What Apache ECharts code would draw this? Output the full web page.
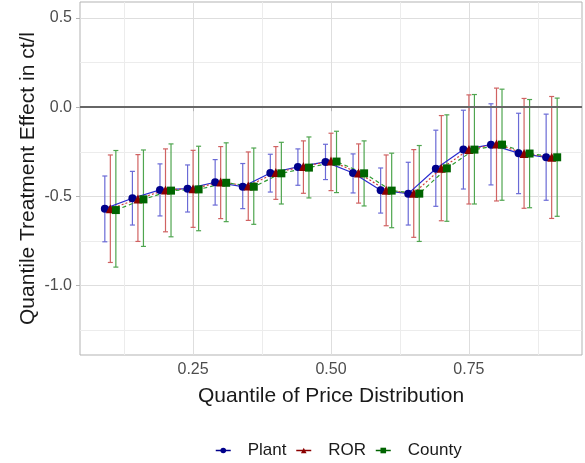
<!DOCTYPE html>
<html>
<head>
<meta charset="utf-8">
<title>Quantile Treatment Effect</title>
<script src="https://cdn.jsdelivr.net/npm/echarts@6/dist/echarts.min.js"></script>
<style>html,body{margin:0;padding:0;background:#fff;}</style>
</head>
<body>
<div id="main" style="width:585px;height:463px;"></div>
<script type="text/javascript">
// data
var quantiles = [0.10, 0.15, 0.20, 0.25, 0.30, 0.35, 0.40, 0.45, 0.50, 0.55, 0.60, 0.65, 0.70, 0.75, 0.80, 0.85, 0.90];

var plantEst = [-0.569, -0.511, -0.464, -0.457, -0.421, -0.446, -0.369, -0.335, -0.307, -0.369, -0.466, -0.485, -0.345, -0.238, -0.210, -0.258, -0.281];
var plantLo  = [-0.755, -0.661, -0.610, -0.588, -0.549, -0.569, -0.476, -0.438, -0.406, -0.481, -0.594, -0.661, -0.556, -0.459, -0.436, -0.485, -0.522];
var plantHi  = [-0.386, -0.360, -0.318, -0.324, -0.294, -0.316, -0.264, -0.234, -0.208, -0.262, -0.341, -0.309, -0.129, -0.017, 0.019, -0.034, -0.039];

var rorEst = [-0.570, -0.515, -0.464, -0.457, -0.420, -0.442, -0.367, -0.333, -0.302, -0.369, -0.466, -0.483, -0.343, -0.238, -0.206, -0.260, -0.281];
var rorLo  = [-0.871, -0.753, -0.699, -0.674, -0.625, -0.635, -0.517, -0.483, -0.468, -0.538, -0.665, -0.730, -0.637, -0.543, -0.526, -0.567, -0.624];
var rorHi  = [-0.268, -0.266, -0.234, -0.242, -0.221, -0.251, -0.221, -0.189, -0.146, -0.206, -0.268, -0.238, -0.047, 0.069, 0.107, 0.049, 0.060];

var countyEst = [-0.577, -0.517, -0.468, -0.461, -0.424, -0.446, -0.371, -0.339, -0.305, -0.371, -0.468, -0.485, -0.343, -0.238, -0.210, -0.260, -0.281];
var countyLo  = [-0.897, -0.781, -0.727, -0.693, -0.642, -0.657, -0.543, -0.509, -0.479, -0.554, -0.676, -0.753, -0.640, -0.543, -0.522, -0.564, -0.612];
var countyHi  = [-0.243, -0.240, -0.206, -0.219, -0.200, -0.229, -0.197, -0.167, -0.135, -0.189, -0.258, -0.215, -0.043, 0.071, 0.101, 0.043, 0.051];

var xMajor = [0.25, 0.50, 0.75];
var xMinor = [0.125, 0.375, 0.625, 0.875];
var yMajor = [-1.0, -0.5, 0.0, 0.5];
var yMinor = [-1.25, -0.75, -0.25, 0.25];

var myChart = echarts.init(document.getElementById('main'));

// groups: name, dodge, point colour, line colour, bar colour, symbol, line type
var groups = [
    {name: 'Plant',  est: plantEst,  lo: plantLo,  hi: plantHi,  dodge: -0.01, point: '#00008b', line: '#2b2bd0', bar: '#6a6ad6', symbol: 'circle',   size: 8, type: 'solid'},
    {name: 'ROR',    est: rorEst,    lo: rorLo,    hi: rorHi,    dodge: 0,     point: '#8b0000', line: '#d04040', bar: '#d06262', symbol: 'triangle', size: 9, type: [2, 2]},
    {name: 'County', est: countyEst, lo: countyLo, hi: countyHi, dodge: 0.01,  point: '#006400', line: '#2f9a2f', bar: '#4fa54f', symbol: 'rect',     size: 8, type: [4, 3]}
];

function errorBars(color) {
    return function (params, api) {
        var x = api.value(0);
        var top = api.coord([x, api.value(2)]);
        var bot = api.coord([x, api.value(1)]);
        var hw = 2.5;
        var st = {stroke: color, lineWidth: 1.2};
        return {
            type: 'group',
            children: [
                {type: 'line', shape: {x1: top[0], y1: top[1], x2: bot[0], y2: bot[1]}, style: st},
                {type: 'line', shape: {x1: top[0] - hw, y1: top[1], x2: top[0] + hw, y2: top[1]}, style: st},
                {type: 'line', shape: {x1: bot[0] - hw, y1: bot[1], x2: bot[0] + hw, y2: bot[1]}, style: st}
            ]
        };
    };
}

var series = [];
groups.forEach(function (g) {
    series.push({
        name: g.name + ' CI',
        type: 'custom',
        z: 2,
        silent: true,
        renderItem: errorBars(g.bar),
        encode: {x: 0, y: [1, 2]},
        data: quantiles.map(function (q, i) { return [q + g.dodge, g.lo[i], g.hi[i]]; })
    });
});
groups.forEach(function (g) {
    series.push({
        name: g.name,
        type: 'line',
        z: 3,
        symbol: g.symbol,
        symbolSize: g.size,
        itemStyle: {color: g.point},
        lineStyle: {color: g.line, width: 1.2, type: g.type},
        data: quantiles.map(function (q, i) { return [q + g.dodge, g.est[i]]; })
    });
});
// zero reference line
series.push({
    name: 'zero',
    type: 'line',
    data: [],
    z: 1,
    markLine: {
        silent: true,
        symbol: 'none',
        label: {show: false},
        lineStyle: {color: '#666666', width: 2, type: 'solid'},
        data: [{yAxis: 0}]
    }
});

var font = 'Liberation Sans, Arial, sans-serif';
var axisText = {color: '#4d4d4d', fontSize: 16, fontFamily: font};

myChart.setOption({
    animation: false,
    backgroundColor: '#ffffff',
    grid: {left: 80, right: 3, top: 2, bottom: 108, show: true, borderColor: '#b3b3b3', borderWidth: 1},
    legend: {
        top: 437,
        left: 210,
        itemWidth: 15,
        itemHeight: 7,
        itemGap: 9,
        data: groups.map(function (g) {
            return {name: g.name, lineStyle: {type: 'solid', color: g.point, width: 1.5}};
        }),
        textStyle: {color: '#1a1a1a', fontSize: 17, fontFamily: font, padding: [0, 0, 0, 12]}
    },
    xAxis: [{
        type: 'value', min: 0.045, max: 0.955,
        name: 'Quantile of Price Distribution',
        nameLocation: 'middle', nameGap: 31, nameMoveOverlap: false,
        nameTextStyle: {color: '#1a1a1a', fontSize: 21, fontFamily: font},
        axisLine: {show: false},
        axisTick: {show: true, length: 4, customValues: xMajor, lineStyle: {color: '#b3b3b3'}},
        axisLabel: Object.assign({customValues: xMajor, margin: 7, formatter: function (v) { return v.toFixed(2); }}, axisText),
        splitLine: {show: true, lineStyle: {color: '#dedede', width: 1}}
    }, {
        type: 'value', min: 0.045, max: 0.955, position: 'bottom',
        axisLine: {show: false},
        axisTick: {show: false, customValues: xMinor},
        axisLabel: {show: false},
        splitLine: {show: true, lineStyle: {color: '#ececec', width: 1}}
    }],
    yAxis: [{
        type: 'value', min: -1.39, max: 0.59,
        name: 'Quantile Treatment Effect in ct/l',
        nameLocation: 'middle', nameGap: 41, nameMoveOverlap: false,
        nameTextStyle: {color: '#1a1a1a', fontSize: 21, fontFamily: font},
        axisLine: {show: false},
        axisTick: {show: true, length: 4, customValues: yMajor, lineStyle: {color: '#b3b3b3'}},
        axisLabel: Object.assign({customValues: yMajor, margin: 8, formatter: function (v) { return v.toFixed(1); }}, axisText),
        splitLine: {show: true, lineStyle: {color: '#dedede', width: 1}}
    }, {
        type: 'value', min: -1.39, max: 0.59, position: 'left',
        axisLine: {show: false},
        axisTick: {show: false, customValues: yMinor},
        axisLabel: {show: false},
        splitLine: {show: true, lineStyle: {color: '#ececec', width: 1}}
    }],
    series: series
});
</script>
</body>
</html>
